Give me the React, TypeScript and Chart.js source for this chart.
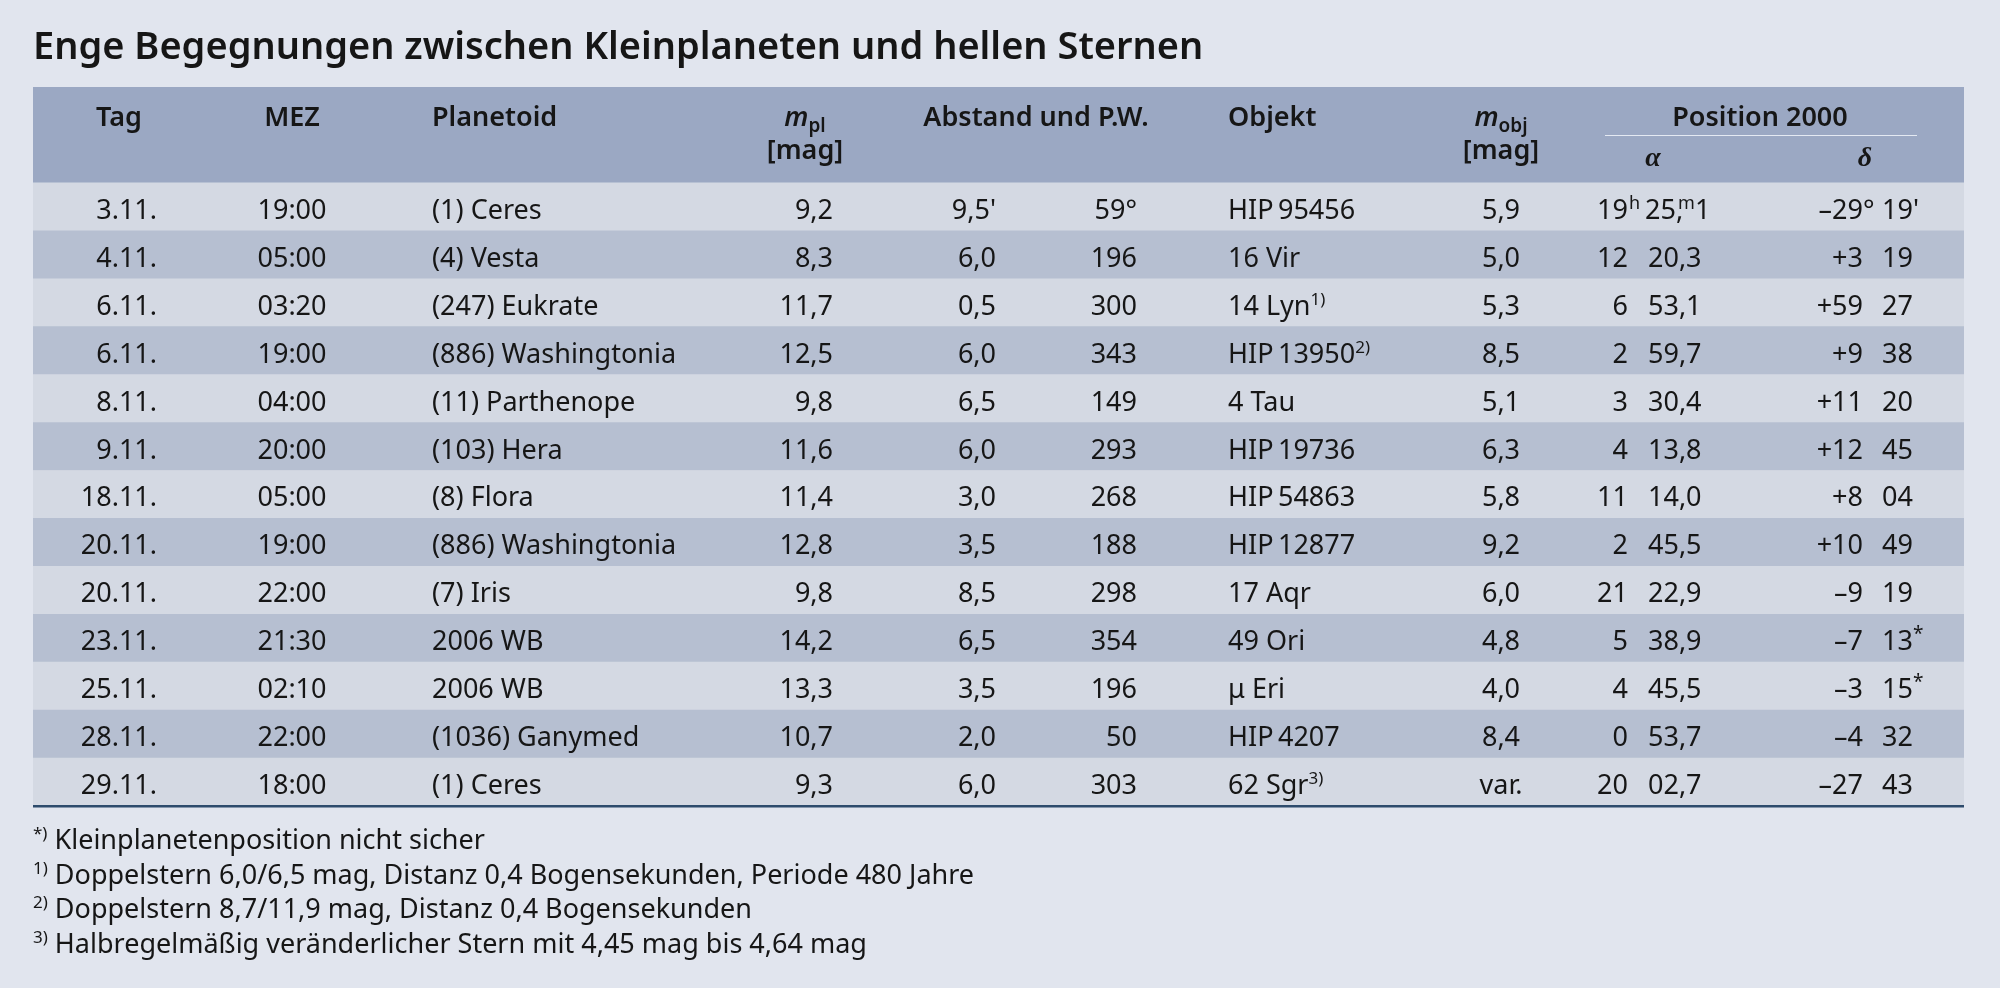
import React, { useEffect, useRef } from "react";
import { Chart, registerables } from "chart.js";

Chart.register(...registerables);

// ---------- DATA ----------
const TITLE = "Enge Begegnungen zwischen Kleinplaneten und hellen Sternen";

const days = ["3.11.", "4.11.", "6.11.", "6.11.", "8.11.", "9.11.", "18.11.", "20.11.", "20.11.", "23.11.", "25.11.", "28.11.", "29.11."];
const times = ["19:00", "05:00", "03:20", "19:00", "04:00", "20:00", "05:00", "19:00", "22:00", "21:30", "02:10", "22:00", "18:00"];
const planetoids = ["(1) Ceres", "(4) Vesta", "(247) Eukrate", "(886) Washingtonia", "(11) Parthenope", "(103) Hera", "(8) Flora", "(886) Washingtonia", "(7) Iris", "2006 WB", "2006 WB", "(1036) Ganymed", "(1) Ceres"];
const magPlanet = ["9,2", "8,3", "11,7", "12,5", "9,8", "11,6", "11,4", "12,8", "9,8", "14,2", "13,3", "10,7", "9,3"];
const distances = ["9,5'", "6,0", "0,5", "6,0", "6,5", "6,0", "3,0", "3,5", "8,5", "6,5", "3,5", "2,0", "6,0"];
const positionAngles = ["59°", "196", "300", "343", "149", "293", "268", "188", "298", "354", "196", "50", "303"];
const objects = ["HIP\u200995456", "16 Vir", "14 Lyn", "HIP\u200913950", "4 Tau", "HIP\u200919736", "HIP\u200954863", "HIP\u200912877", "17 Aqr", "49 Ori", "\u03bc Eri", "HIP\u20094207", "62 Sgr"];
const objectNotes = ["", "", "1)", "2)", "", "", "", "", "", "", "", "", "3)"];
const magObject = ["5,9", "5,0", "5,3", "8,5", "5,1", "6,3", "5,8", "9,2", "6,0", "4,8", "4,0", "8,4", "var."];
const raHours = ["19", "12", "6", "2", "3", "4", "11", "2", "21", "5", "4", "0", "20"];
const raMinutes = ["25,1", "20,3", "53,1", "59,7", "30,4", "13,8", "14,0", "45,5", "22,9", "38,9", "45,5", "53,7", "02,7"];
const decDegrees = ["\u201329", "+3", "+59", "+9", "+11", "+12", "+8", "+10", "\u20139", "\u20137", "\u20133", "\u20134", "\u201327"];
const decMinutes = ["19", "19", "27", "38", "20", "45", "04", "49", "19", "13", "15", "32", "43"];
const decNotes = ["", "", "", "", "", "", "", "", "", "*", "*", "", ""];

const footnoteMarks = ["*)", "1)", "2)", "3)"];
const footnoteTexts = [
  "Kleinplanetenposition nicht sicher",
  "Doppelstern 6,0/6,5 mag, Distanz 0,4 Bogensekunden, Periode 480 Jahre",
  "Doppelstern 8,7/11,9 mag, Distanz 0,4 Bogensekunden",
  "Halbregelmäßig veränderlicher Stern mit 4,45 mag bis 4,64 mag",
];

const headerRows = ["header-1", "header-2"];

// ---------- LAYOUT / STYLE ----------
const W = 2000;
const H = 988;
const TABLE_W = 1931;
const PAD = { left: 33, right: 36, top: 87, bottom: 182 };

// column anchors in table units (x scale)
const COL = {
  tagR: 124,
  tagHead: 86,
  mezC: 259,
  planL: 399,
  mplR: 800,
  mplHead: 772,
  distR: 963,
  paR: 1104,
  abstHead: 1003,
  objL: 1195,
  mobjC: 1468,
  raHR: 1595,
  raML: 1615,
  raHead: 1620,
  decDR: 1830,
  decML: 1849,
  decHead: 1832,
  posHead: 1727,
  posLineL: 1572,
  posLineR: 1884,
};

const FAMILY = '"Noto Sans", sans-serif';
const SIZE = 27;
const SUP = 17;
const HEAD = "600";
const TEXT = "#161616";
const BG = "#e1e5ee";
const HEAD_BG = "#9ba8c3";
const ROW_LIGHT = "#d4d9e3";
const ROW_DARK = "#b6bfd1";
const RULE = "#2d4b6c";
const SX = 1; // horizontal text scale

type Run = { t: string; f: string; dy?: number; dx?: number };

function font(style: string, size: number, fam = FAMILY) {
  return `${style} ${size}px ${fam}`.trim();
}

function runsWidth(ctx: CanvasRenderingContext2D, runs: Run[]) {
  let w = 0;
  for (const r of runs) {
    ctx.font = r.f;
    w += ctx.measureText(r.t).width + (r.dx || 0);
  }
  return w * SX;
}

function drawRuns(ctx: CanvasRenderingContext2D, runs: Run[], x: number, y: number, align: "left" | "right" | "center") {
  const w = runsWidth(ctx, runs);
  let cx = align === "left" ? x : align === "right" ? x - w : x - w / 2;
  ctx.save();
  ctx.textAlign = "left";
  ctx.textBaseline = "alphabetic";
  ctx.fillStyle = TEXT;
  for (const r of runs) {
    ctx.font = r.f;
    cx += (r.dx || 0) * SX;
    ctx.save();
    ctx.translate(cx, y + (r.dy || 0));
    ctx.scale(SX, 1);
    ctx.fillText(r.t, 0, 0);
    ctx.restore();
    cx += ctx.measureText(r.t).width * SX;
  }
  ctx.restore();
}

const txt = (t: string, style = "", size = SIZE): Run => ({ t, f: font(style, size) });
const sup = (t: string, dy = -10, size = SUP, style = ""): Run => ({ t, f: font(style, size), dy });

const tablePlugin = {
  id: "tableText",
  beforeDraw(chart: any) {
    const { ctx } = chart;
    ctx.save();
    ctx.fillStyle = BG;
    ctx.fillRect(0, 0, chart.width, chart.height);
    ctx.restore();
  },
  afterDatasetsDraw(chart: any) {
    const { ctx, chartArea } = chart;
    const x = chart.scales.x;
    const y = chart.scales.y;
    const px = (v: number) => x.getPixelForValue(v);

    // Title
    drawRuns(ctx, [txt(TITLE, HEAD, 38)], chartArea.left, 59, "left");

    // Header
    const h1 = y.getPixelForValue(0) + 15;
    const h2 = y.getPixelForValue(1) + 0;
    const hGreek = y.getPixelForValue(1) + 7;
    drawRuns(ctx, [txt("Tag", HEAD)], px(COL.tagHead), h1, "center");
    drawRuns(ctx, [txt("MEZ", HEAD)], px(COL.mezC), h1, "center");
    drawRuns(ctx, [txt("Planetoid", HEAD)], px(COL.planL), h1, "left");
    drawRuns(ctx, [txt("m", "italic " + HEAD), { t: "pl", f: font(HEAD, 19), dy: 6 }], px(COL.mplHead), h1, "center");
    drawRuns(ctx, [txt("[mag]", HEAD)], px(COL.mplHead), h2, "center");
    drawRuns(ctx, [txt("Abstand und P.W.", HEAD)], px(COL.abstHead), h1, "center");
    drawRuns(ctx, [txt("Objekt", HEAD)], px(COL.objL), h1, "left");
    drawRuns(ctx, [txt("m", "italic " + HEAD), { t: "obj", f: font(HEAD, 19), dy: 6 }], px(COL.mobjC), h1, "center");
    drawRuns(ctx, [txt("[mag]", HEAD)], px(COL.mobjC), h2, "center");
    drawRuns(ctx, [txt("Position 2000", HEAD)], px(COL.posHead), h1, "center");
    drawRuns(ctx, [{ t: "\u03b1", f: font("italic bold", 28, '"Liberation Serif", serif') }], px(COL.raHead), hGreek, "center");
    drawRuns(ctx, [{ t: "\u03b4", f: font("italic bold", 28, '"Liberation Serif", serif') }], px(COL.decHead), hGreek, "center");
    ctx.save();
    ctx.strokeStyle = "#e4e9f2";
    ctx.lineWidth = 1.2;
    ctx.beginPath();
    const ly = Math.round(h1 + 9) + 0.5;
    ctx.moveTo(px(COL.posLineL), ly);
    ctx.lineTo(px(COL.posLineR), ly);
    ctx.stroke();
    ctx.restore();

    // Rows
    days.forEach((_, i) => {
      const by = y.getPixelForValue(i + headerRows.length) + 12;
      drawRuns(ctx, [txt(days[i])], px(COL.tagR), by, "right");
      drawRuns(ctx, [txt(times[i])], px(COL.mezC), by, "center");
      drawRuns(ctx, [txt(planetoids[i])], px(COL.planL), by, "left");
      drawRuns(ctx, [txt(magPlanet[i])], px(COL.mplR), by, "right");
      drawRuns(ctx, [txt(distances[i])], px(COL.distR), by, "right");
      drawRuns(ctx, [txt(positionAngles[i])], px(COL.paR), by, "right");
      const obj: Run[] = [txt(objects[i])];
      if (objectNotes[i]) obj.push(sup(objectNotes[i]));
      drawRuns(ctx, obj, px(COL.objL), by, "left");
      drawRuns(ctx, [txt(magObject[i])], px(COL.mobjC), by, "center");
      // right ascension
      drawRuns(ctx, [txt(raHours[i])], px(COL.raHR), by, "right");
      if (i === 0) {
        drawRuns(ctx, [sup("h", -10, 18)], px(COL.raHR) + 1, by, "left");
        const [a, b] = raMinutes[i].split(",");
        drawRuns(ctx, [txt(a + ","), { ...sup("m", -10, 18), dx: -5 }, txt(b)], px(COL.raML) - 3, by, "left");
      } else {
        drawRuns(ctx, [txt(raMinutes[i])], px(COL.raML), by, "left");
      }
      // declination
      drawRuns(ctx, [txt(decDegrees[i])], px(COL.decDR), by, "right");
      if (i === 0) {
        drawRuns(ctx, [txt("°")], px(COL.decDR), by, "left");
        drawRuns(ctx, [txt(decMinutes[i] + "'")], px(COL.decML), by, "left");
      } else {
        const dm: Run[] = [txt(decMinutes[i])];
        if (decNotes[i]) dm.push(sup(decNotes[i], -10, 19));
        drawRuns(ctx, dm, px(COL.decML), by, "left");
      }
    });

    // bottom rule
    ctx.save();
    ctx.fillStyle = RULE;
    ctx.fillRect(chartArea.left, chartArea.bottom - 1, chartArea.right - chartArea.left, 2.5);
    ctx.restore();

    // Footnotes
    const fnBase = [849, 884, 918, 953];
    footnoteTexts.forEach((t, i) => {
      drawRuns(ctx, [sup(footnoteMarks[i], -10, SUP), txt(" " + t)], chartArea.left, fnBase[i], "left");
    });
  },
};

export default function App() {
  const ref = useRef<HTMLCanvasElement | null>(null);

  useEffect(() => {
    document.body.style.margin = "0";
    const canvas = ref.current!;
    const labels = [...headerRows, ...days.map((d, i) => `${i + 1}: ${d}`)];
    const colors = labels.map((_, i) =>
      i < headerRows.length ? HEAD_BG : (i - headerRows.length) % 2 === 0 ? ROW_LIGHT : ROW_DARK
    );
    const chart = new Chart(canvas, {
      type: "bar",
      data: {
        labels,
        datasets: [
          {
            data: labels.map(() => [0, TABLE_W]) as any,
            backgroundColor: colors,
            borderWidth: 0,
            barPercentage: 1,
            categoryPercentage: 1,
          },
        ],
      },
      options: {
        indexAxis: "y",
        responsive: false,
        animation: false,
        events: [],
        layout: { padding: PAD },
        plugins: { legend: { display: false }, tooltip: { enabled: false }, title: { display: false } },
        scales: {
          x: { type: "linear", min: 0, max: TABLE_W, display: false },
          y: { type: "category", display: false, offset: true, grid: { display: false } },
        },
      },
      plugins: [tablePlugin],
    });
    return () => chart.destroy();
  }, []);

  return (
    <div style={{ position: "absolute", left: 0, top: 0, width: W, height: H, background: BG }}>
      <canvas ref={ref} width={W} height={H} style={{ display: "block", width: W, height: H }} />
    </div>
  );
}
